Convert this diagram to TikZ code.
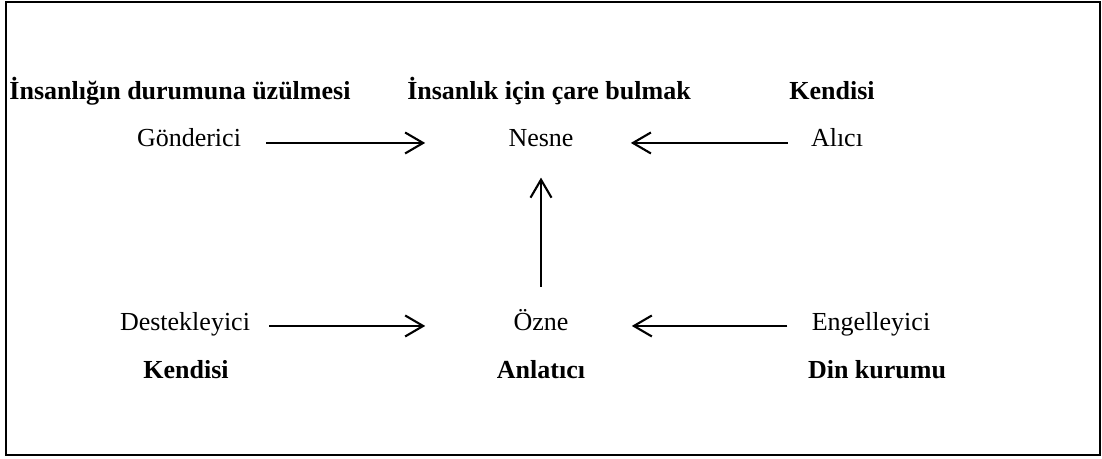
\documentclass[tikz,border=0pt]{standalone}
\usepackage{fontspec}
\setmainfont{Liberation Serif}
\usetikzlibrary{arrows.meta}
\tikzset{
  role/.style={
    inner sep=0pt, anchor=base,
    font=\fontsize{14.8}{17}\selectfont
  },
  filler/.style={
    inner sep=0pt, anchor=base,
    font=\fontsize{14.8}{17}\selectfont\bfseries
  },
  actarrow/.style={
    -{Straight Barb[length=0.36cm, width=0.42cm]}, line width=1.2pt
  },
}

\begin{document}
\begin{tikzpicture}[x=0.02cm, y=-0.02cm]
  \useasboundingbox (0,0) rectangle (1102,459);
  \draw[line width=1.2pt] (6,2) rectangle (1100,455);

  % --- upper row ---
  \node[filler] (senderval) at (180,100) {İnsanlığın durumuna üzülmesi};
  \node[filler] (objectval) at (549,100) {İnsanlık için çare bulmak};
  \node[filler] (receiverval) at (832,100) {Kendisi};

  \node[role] (sender) at (189,147) {Gönderici};
  \node[role] (object) at (541,147) {Nesne};
  \node[role] (receiver) at (837,147) {Alıcı};

  % --- lower row ---
  \node[role] (helper) at (185,330) {Destekleyici};
  \node[role] (subject) at (541,330) {Özne};
  \node[role] (opponent) at (871,330) {Engelleyici};

  \node[filler] (helperval) at (186,378) {Kendisi};
  \node[filler] (subjectval) at (541,378) {Anlatıcı};
  \node[filler] (opponentval) at (877,378) {Din kurumu};

  % arrows
  \draw[actarrow, shorten <=0.5cm, shorten >=1.66cm] (sender.mid east) -- (object.mid west);
  \draw[actarrow, shorten <=0.46cm, shorten >=1.14cm] (receiver.mid west) -- (object.mid east);
  \draw[actarrow, shorten <=0.44cm, shorten >=0.6cm] (subject.north) -- (subject.north |- object.south);
  \draw[actarrow, shorten <=0.38cm, shorten >=1.76cm] (helper.mid east) -- (subject.mid west);
  \draw[actarrow, shorten <=0.48cm, shorten >=1.26cm] (opponent.mid west) -- (subject.mid east);
\end{tikzpicture}
\end{document}
